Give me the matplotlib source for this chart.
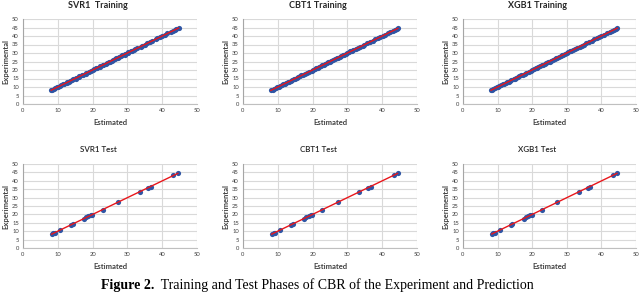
import matplotlib.pyplot as plt
import numpy as np

# Experimental vs estimated values for the three models

train_exp = [8.0, 8.4, 8.9, 9.3, 9.8, 10.2, 10.6, 11.1, 11.5, 11.9, 12.4, 12.8,
             13.2, 13.7, 14.1, 14.6, 15.0, 15.4, 15.9, 16.3, 16.8, 17.2, 17.9,
             18.3, 19.0, 19.6, 20.1, 20.5, 21.0, 21.4, 21.9, 22.3, 22.8, 23.2,
             23.7, 24.1, 24.6, 25.0, 25.5, 25.9, 26.4, 26.8, 27.3, 27.7, 28.2,
             28.6, 29.1, 29.5, 30.0, 30.4, 30.9, 31.3, 31.8, 32.3, 33.0, 33.8,
             34.4, 35.0, 35.6, 36.5, 37.3, 38.0, 38.7, 39.4, 40.1, 40.8, 41.6,
             42.4, 43.1, 43.7, 44.2, 44.6]
svr_train_est = [8.1, 8.3, 9.0, 9.2, 9.9, 10.1, 10.7, 11.0, 11.6, 11.8, 12.5, 12.7,
                 13.3, 13.6, 14.2, 14.5, 15.1, 15.3, 16.0, 16.2, 16.9, 17.1, 18.0,
                 18.2, 19.1, 19.5, 20.2, 20.4, 21.1, 21.3, 22.0, 22.2, 22.9, 23.1,
                 23.8, 24.0, 24.7, 24.9, 25.6, 25.8, 26.5, 26.7, 27.4, 27.6, 28.3,
                 28.5, 29.2, 29.4, 30.1, 30.3, 31.0, 31.2, 31.9, 32.2, 32.9, 33.9,
                 34.3, 35.1, 35.5, 36.6, 37.2, 38.1, 38.6, 39.5, 40.0, 40.9, 41.5,
                 42.5, 43.0, 43.8, 44.1, 44.7]
cbt_train_est = [8.0, 8.5, 8.9, 9.4, 9.7, 10.3, 10.6, 11.2, 11.4, 12.0, 12.3, 12.9,
                 13.1, 13.8, 14.0, 14.7, 14.9, 15.5, 15.8, 16.4, 16.7, 17.3, 17.8,
                 18.4, 18.9, 19.7, 20.0, 20.6, 20.9, 21.5, 21.8, 22.4, 22.7, 23.3,
                 23.6, 24.2, 24.5, 25.1, 25.4, 26.0, 26.3, 26.9, 27.2, 27.8, 28.1,
                 28.7, 29.0, 29.6, 29.9, 30.5, 30.8, 31.4, 31.7, 32.4, 33.1, 33.7,
                 34.5, 34.9, 35.7, 36.4, 37.4, 37.9, 38.8, 39.3, 40.2, 40.7, 41.7,
                 42.3, 43.2, 43.6, 44.3, 44.5]
xgb_train_est = [8.1, 8.4, 8.8, 9.3, 9.9, 10.2, 10.5, 11.1, 11.6, 11.9, 12.3, 12.8,
                 13.3, 13.7, 14.0, 14.6, 15.1, 15.4, 15.8, 16.3, 16.9, 17.2, 17.8,
                 18.3, 19.1, 19.6, 20.0, 20.5, 21.1, 21.4, 21.8, 22.3, 22.9, 23.2,
                 23.6, 24.1, 24.7, 25.0, 25.4, 25.9, 26.5, 26.8, 27.2, 27.7, 28.3,
                 28.6, 29.0, 29.5, 30.1, 30.4, 30.8, 31.3, 31.9, 32.3, 32.9, 33.8,
                 34.3, 35.0, 35.5, 36.5, 37.2, 38.0, 38.6, 39.4, 40.0, 40.8, 41.5,
                 42.4, 43.0, 43.7, 44.1, 44.6]

test_exp = [8.3, 8.8, 9.2, 10.8, 13.8, 14.3, 17.5, 18.2, 18.8, 19.5, 19.8,
            22.8, 27.3, 33.4, 35.9, 36.6, 43.3, 44.4]
svr_test_est = [8.2, 8.7, 9.3, 10.7, 13.9, 14.4, 17.6, 18.0, 18.8, 19.4, 19.9,
                22.9, 27.3, 33.5, 35.9, 36.8, 43.2, 44.5]
cbt_test_est = [8.2, 8.8, 9.2, 10.6, 13.8, 14.4, 17.5, 18.1, 18.9, 19.5, 19.9,
                22.8, 27.2, 33.4, 35.8, 36.7, 43.4, 44.4]
xgb_test_est = [8.3, 8.7, 9.2, 10.7, 13.9, 14.3, 17.6, 18.1, 18.8, 19.4, 19.8,
                22.8, 27.3, 33.5, 36.0, 36.7, 43.3, 44.5]

titles = ["SVR1  Training", "CBT1 Training", "XGB1 Training",
          "SVR1 Test", "CBT1 Test", "XGB1 Test"]
est_sets = [svr_train_est, cbt_train_est, xgb_train_est,
            svr_test_est, cbt_test_est, xgb_test_est]
exp_sets = [train_exp, train_exp, train_exp, test_exp, test_exp, test_exp]

plt.rcParams['font.family'] = ['Lato', 'DejaVu Sans']

fig = plt.figure(figsize=(6.4, 2.93), dpi=100)
W, H = 640.0, 293.0

# axes boxes in pixels: (x0, x1, ytop, ybottom)
boxes = [(23, 197, 19, 104), (243, 417, 19, 104), (463, 636, 19, 104),
         (23, 197, 164, 248), (243, 417, 164, 248), (463, 636, 164, 248)]
title_y = [5, 5, 5, 150, 150, 150]

for i, (x0, x1, yt, yb) in enumerate(boxes):
    ax = fig.add_axes([x0 / W, 1 - yb / H, (x1 - x0) / W, (yb - yt) / H])
    est = np.array(est_sets[i])
    exp = np.array(exp_sets[i])
    ax.scatter(est, exp, s=14, color="#2F55A4", zorder=3, linewidths=0)
    k, b = np.polyfit(est, exp, 1)
    xs = np.array([est.min(), est.max()])
    ax.plot(xs, k * xs + b, color="#E8161B", lw=1.0, zorder=4)

    ax.set_xlim(0, 50)
    ax.set_ylim(0, 50)
    ax.set_xticks(np.arange(0, 51, 10))
    ax.set_yticks(np.arange(0, 51, 5))
    ax.grid(True, color="#D9D9D9", lw=0.8)
    ax.set_axisbelow(True)
    for s in ["top", "right"]:
        ax.spines[s].set_visible(False)
    ax.spines["left"].set_color("#A6A6A6")
    ax.spines["bottom"].set_color("#BFBFBF")
    ax.spines["left"].set_linewidth(0.8)
    ax.spines["bottom"].set_linewidth(0.8)
    ax.tick_params(length=0, labelsize=4.2, colors="#404040", pad=3)
    ax.set_xlabel("Estimated", fontsize=5.5, fontweight="bold",
                  color="#404040", labelpad=4)
    ax.set_ylabel("Experimental", fontsize=5.5, fontweight="bold",
                  color="#404040", labelpad=2)

    cx = (x0 + x1) / 2 - 12
    weight = "bold" if i < 3 else "semibold"
    size = 6.5 if i < 3 else 5.8
    fig.text(cx / W, 1 - title_y[i] / H, titles[i], ha="center", va="center",
             fontsize=size, fontweight=weight, color="#262626")

# caption at the bottom edge
t1 = fig.text(101 / W, 1.5 / H, "Figure 2.", ha="left", va="bottom",
              fontsize=10, fontweight="bold", family="Liberation Serif")
fig.text(0, 0, "", transform=t1.get_transform())
plt.annotate("  Training and Test Phases of CBR of the Experiment and Prediction",
             xy=(1, 0), xycoords=t1, va="bottom", ha="left",
             fontsize=10, family="Liberation Serif", annotation_clip=False)

fig.savefig("out.png", dpi=100)
